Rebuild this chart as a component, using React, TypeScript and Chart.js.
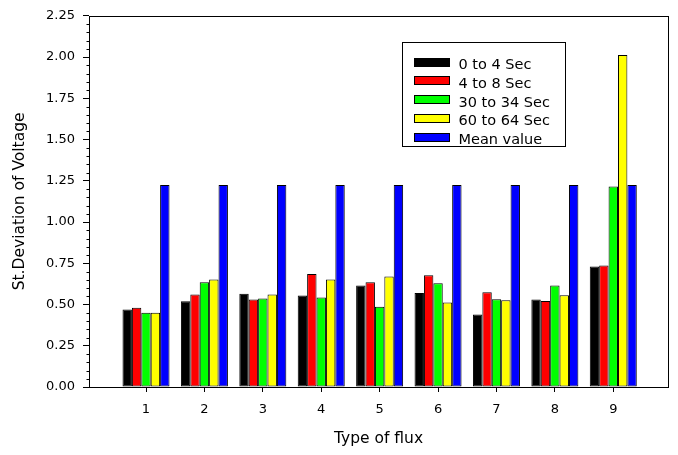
import React, { useEffect, useRef } from "react";
import { Chart, registerables } from "chart.js";

Chart.register(...registerables);

// ---- data ----
const categories = [1, 2, 3, 4, 5, 6, 7, 8, 9];
const xTickLabels = ["1", "2", "3", "4", "5", "6", "7", "8", "9"];
const seriesLabels = ["0 to 4 Sec", "4 to 8 Sec", "30 to 34 Sec", "60 to 64 Sec", "Mean value"];
const sec0to4 = [0.47, 0.52, 0.565, 0.555, 0.615, 0.57, 0.44, 0.53, 0.73];
const sec4to8 = [0.48, 0.56, 0.53, 0.685, 0.635, 0.678, 0.575, 0.522, 0.737];
const sec30to34 = [0.45, 0.635, 0.537, 0.543, 0.486, 0.629, 0.532, 0.615, 1.215];
const sec60to64 = [0.45, 0.652, 0.561, 0.652, 0.67, 0.512, 0.526, 0.556, 2.012];
const meanValue = [1.225, 1.225, 1.225, 1.225, 1.225, 1.225, 1.225, 1.225, 1.225];
const seriesColors = ["#000000", "#ff0000", "#00ff00", "#ffff00", "#0000ff"];
const yTicks = [0, 0.25, 0.5, 0.75, 1.0, 1.25, 1.5, 1.75, 2.0, 2.25];
const yMinorStep = 0.05;

const seriesValues = [sec0to4, sec4to8, sec30to34, sec60to64, meanValue];

const FONT = "'DejaVu Sans', sans-serif";

const framePlugin = {
  id: "frameAndMinor",
  afterDatasetsDraw(chart: any) {
    const { ctx, chartArea: a, scales } = chart;
    ctx.save();
    ctx.strokeStyle = "#000";
    ctx.lineWidth = 1;
    const l = Math.round(a.left), t = Math.round(a.top), r = Math.round(a.right), b = Math.round(a.bottom);
    ctx.strokeRect(l + 0.5, t + 0.5, r - l, b - t);
    const ys = scales.y;
    ctx.beginPath();
    for (let i = 0; ; i++) {
      const v = i * yMinorStep;
      if (v > ys.max + 1e-9) break;
      if (yTicks.some((tv) => Math.abs(tv - v) < 1e-9)) continue;
      const py = Math.round(ys.getPixelForValue(v)) + 0.5;
      ctx.moveTo(l + 0.5 - 3, py);
      ctx.lineTo(l + 0.5, py);
    }
    ctx.stroke();
    ctx.restore();
  },
};

const legendPlugin = {
  id: "boxLegend",
  afterDraw(chart: any) {
    const { ctx } = chart;
    ctx.save();
    ctx.strokeStyle = "#000";
    ctx.lineWidth = 1;
    ctx.fillStyle = "#fff";
    ctx.fillRect(402.5, 42.5, 163, 104);
    ctx.strokeRect(402.5, 42.5, 163, 104);
    ctx.font = `14.5px ${FONT}`;
    ctx.textBaseline = "alphabetic";
    ctx.textAlign = "left";
    chart.data.datasets.forEach((ds: any, i: number) => {
      const cy = 62 + 18.8 * i;
      const top = Math.round(cy - 4.5);
      ctx.fillStyle = ds.backgroundColor;
      ctx.fillRect(414, top, 36, 9);
      ctx.strokeRect(414.5, top + 0.5, 35, 8);
      ctx.fillStyle = "#000";
      ctx.fillText(ds.label, 458.5, cy + 7);
    });
    ctx.restore();
  },
};

export default function App() {
  const ref = useRef<HTMLCanvasElement | null>(null);

  useEffect(() => {
    if (!ref.current) return;
    Chart.defaults.font.family = FONT;
    Chart.defaults.color = "#000";
    const datasets = seriesLabels.map((label, si) => ({
      label,
      data: categories.map((c, i) => ({ x: c, y: seriesValues[si][i] })),
      backgroundColor: seriesColors[si],
      borderColor: "#000",
      borderWidth: 1,
      borderSkipped: false as any,
      categoryPercentage: 0.805,
      barPercentage: 1.0,
    }));
    const chart = new Chart(ref.current, {
      type: "bar",
      data: { datasets },
      plugins: [framePlugin, legendPlugin],
      options: {
        animation: false,
        responsive: false,
        devicePixelRatio: 1,
        layout: { padding: { left: 0, right: 10, top: 14, bottom: 0 } },
        plugins: { legend: { display: false }, tooltip: { enabled: false } },
        scales: {
          x: {
            type: "linear",
            min: 0.024,
            max: 9.937,
            offset: false,
            grid: {
              display: true,
              offset: false,
              drawOnChartArea: false,
              drawTicks: true,
              tickLength: 5,
              color: "#000",
              tickColor: "#000",
            },
            border: { display: false },
            afterBuildTicks: (s: any) => {
              s.ticks = categories.map((v) => ({ value: v }));
            },
            afterFit: (s: any) => {
              s.height = 68;
            },
            ticks: {
              autoSkip: false,
              maxRotation: 0,
              padding: 10,
              font: { size: 13 },
              color: "#000",
              callback: (_v: any, idx: number) => xTickLabels[idx],
            },
            title: {
              display: true,
              text: "Type of flux",
              font: { size: 15.5 },
              color: "#000",
              padding: { top: 0, bottom: 7 },
            },
          },
          y: {
            type: "linear",
            min: 0,
            max: 2.25,
            grid: {
              display: true,
              drawOnChartArea: false,
              drawTicks: true,
              tickLength: 6,
              color: "#000",
              tickColor: "#000",
            },
            border: { display: false },
            afterBuildTicks: (s: any) => {
              s.ticks = yTicks.map((v) => ({ value: v }));
            },
            afterFit: (s: any) => {
              s.width = 89;
            },
            ticks: {
              autoSkip: false,
              padding: 8,
              font: { size: 13 },
              color: "#000",
              callback: (v: any) => Number(v).toFixed(2),
            },
            title: {
              display: true,
              text: "St.Deviation of Voltage",
              font: { size: 15.5 },
              color: "#000",
              padding: { top: 11, bottom: 0 },
            },
          },
        },
      } as any,
    });
    return () => chart.destroy();
  }, []);

  return (
    <div style={{ position: "absolute", left: 0, top: 0, width: 678, height: 455, background: "#fff" }}>
      <canvas ref={ref} width={678} height={455} style={{ display: "block", width: 678, height: 455 }} />
    </div>
  );
}
